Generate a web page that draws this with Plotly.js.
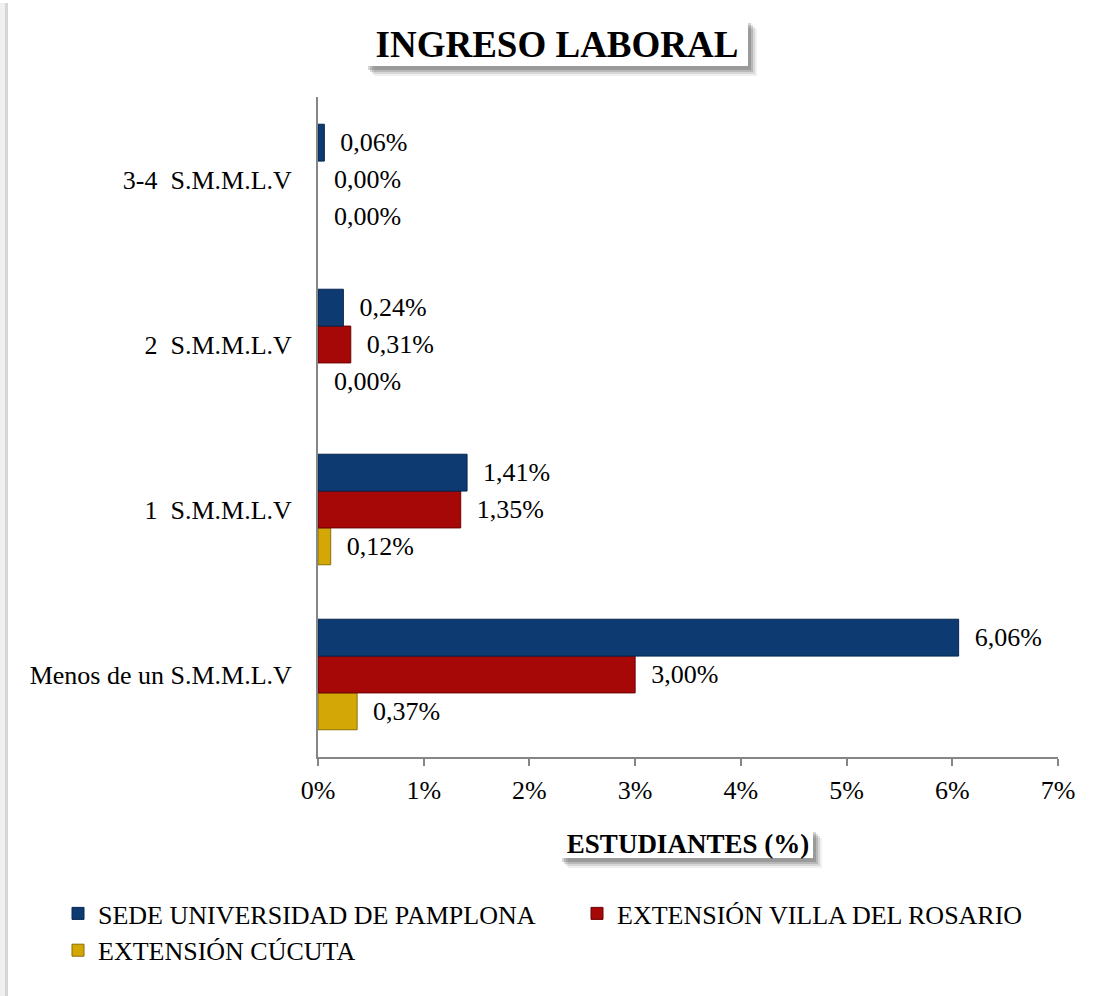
<!DOCTYPE html>
<html>
<head>
<meta charset="utf-8">
<script src="https://cdn.plot.ly/plotly-3.0.1.min.js"></script>
<style>html,body{margin:0;padding:0;background:#fff;}#chart{width:1099px;height:996px;}</style>
</head>
<body>
<div id="chart"></div>
<script>
// ---- data ----
const categories = ['Menos de un S.M.M.L.V', '1\u00a0 S.M.M.L.V', '2\u00a0 S.M.M.L.V', '3-4\u00a0 S.M.M.L.V'];
const seriesNames = ['SEDE UNIVERSIDAD DE PAMPLONA', 'EXTENSIÓN VILLA DEL ROSARIO', 'EXTENSIÓN CÚCUTA'];
const sede = [6.06, 1.41, 0.24, 0.06];
const villa = [3.00, 1.35, 0.31, 0.00];
const cucuta = [0.37, 0.12, 0.00, 0.00];
const xTickVals = [0, 1, 2, 3, 4, 5, 6, 7];
const xTickText = ['0%', '1%', '2%', '3%', '4%', '5%', '6%', '7%'];
const chartTitle = 'INGRESO LABORAL';
const xTitle = 'ESTUDIANTES (%)';

// ---- layout geometry ----
const W = 1099, H = 996;
const L = 318, R = 1058, T = 97, B = 757;
const px2x = p => (p - L) / (R - L);
const px2y = p => (B - p) / (B - T);
const FONT = 'Liberation Serif, Times New Roman, serif';

const fmt = v => '\u00a0\u00a0' + v.toFixed(2).replace('.', ',') + '%';

function barTrace(name, vals, fill, line) {
  return {
    type: 'bar', orientation: 'h', name: name,
    x: vals, y: categories,
    text: vals.map(fmt), textposition: 'outside', cliponaxis: false,
    textfont: {family: FONT, size: 26, color: '#000'},
    marker: {color: fill, line: {color: line, width: vals.map(v => v > 0 ? 1 : 0)}},
    hoverinfo: 'x+y+name'
  };
}

const traces = [
  barTrace(seriesNames[2], cucuta, '#D3A806', '#8C6F00'),
  barTrace(seriesNames[1], villa, '#A60707', '#6A0303'),
  barTrace(seriesNames[0], sede, '#0D3A70', '#062650')
];

function shadowBox(x0, y0, x1, y1) {
  const s = [];
  const offs = [[10, 0.06], [8, 0.10], [6, 0.14], [4, 0.16]];
  offs.forEach(o => {
    s.push({type: 'rect', xref: 'paper', yref: 'paper', layer: 'below',
      x0: px2x(x0 + o[0] - 3), x1: px2x(x1 + o[0] - 1), y0: px2y(y0 + o[0]), y1: px2y(y1 + o[0]),
      fillcolor: 'rgba(0,0,0,' + o[1] + ')', line: {width: 0}});
  });
  s.push({type: 'rect', xref: 'paper', yref: 'paper', layer: 'below',
    x0: px2x(x0), x1: px2x(x1), y0: px2y(y0), y1: px2y(y1),
    fillcolor: '#ffffff', line: {width: 0}});
  return s;
}

const shapes = [].concat(
  [
    {type: 'rect', xref: 'paper', yref: 'paper', layer: 'below',
      x0: px2x(0), x1: px2x(8), y0: px2y(996), y1: px2y(3), fillcolor: '#f0f0f0', line: {width: 0}},
    {type: 'rect', xref: 'paper', yref: 'paper', layer: 'below',
      x0: px2x(5), x1: px2x(8), y0: px2y(996), y1: px2y(3), fillcolor: '#d6d6d6', line: {width: 0}}
  ],
  shadowBox(367, 19, 748, 66),
  shadowBox(561, 828, 813, 858)
);

const layout = {
  width: W, height: H,
  margin: {l: L, r: W - R, t: T, b: H - B, pad: 0, autoexpand: false},
  paper_bgcolor: '#ffffff', plot_bgcolor: '#ffffff',
  font: {family: FONT, size: 26, color: '#000'},
  title: {text: '<b>' + chartTitle + '</b>', font: {family: FONT, size: 37, color: '#000'},
    x: 557 / W, xanchor: 'center', xref: 'container', y: 1 - 44 / H, yanchor: 'middle', yref: 'container', automargin: false},
  barmode: 'group', bargap: 0.33, bargroupgap: 0,
  showlegend: true,
  legend: {orientation: 'h', traceorder: 'reversed', x: px2x(58), xanchor: 'left', y: px2y(890), yanchor: 'top',
    font: {family: FONT, size: 26, color: '#000'}, entrywidth: 474, entrywidthmode: 'pixels', bgcolor: 'rgba(0,0,0,0)'},
  xaxis: {range: [0, 7], tickvals: xTickVals, ticktext: xTickText, showgrid: false, zeroline: false,
    showline: true, linecolor: '#868686', linewidth: 2, ticks: 'outside', ticklen: 7, tickwidth: 2, tickcolor: '#868686',
    tickfont: {family: FONT, size: 26, color: '#000'}, ticklabelstandoff: 2, automargin: false,
    title: {text: '<b>' + xTitle + '</b>', font: {family: FONT, size: 27, color: '#000'}, standoff: 30}},
  yaxis: {type: 'category', categoryorder: 'array', categoryarray: categories, showgrid: false, zeroline: false,
    showline: true, linecolor: '#868686', linewidth: 2, ticks: '', automargin: false,
    tickfont: {family: FONT, size: 26, color: '#000'}, ticklabelstandoff: 19},
  shapes: shapes
};

Plotly.newPlot('chart', traces, layout, {displayModeBar: false, staticPlot: true});
</script>
</body>
</html>
